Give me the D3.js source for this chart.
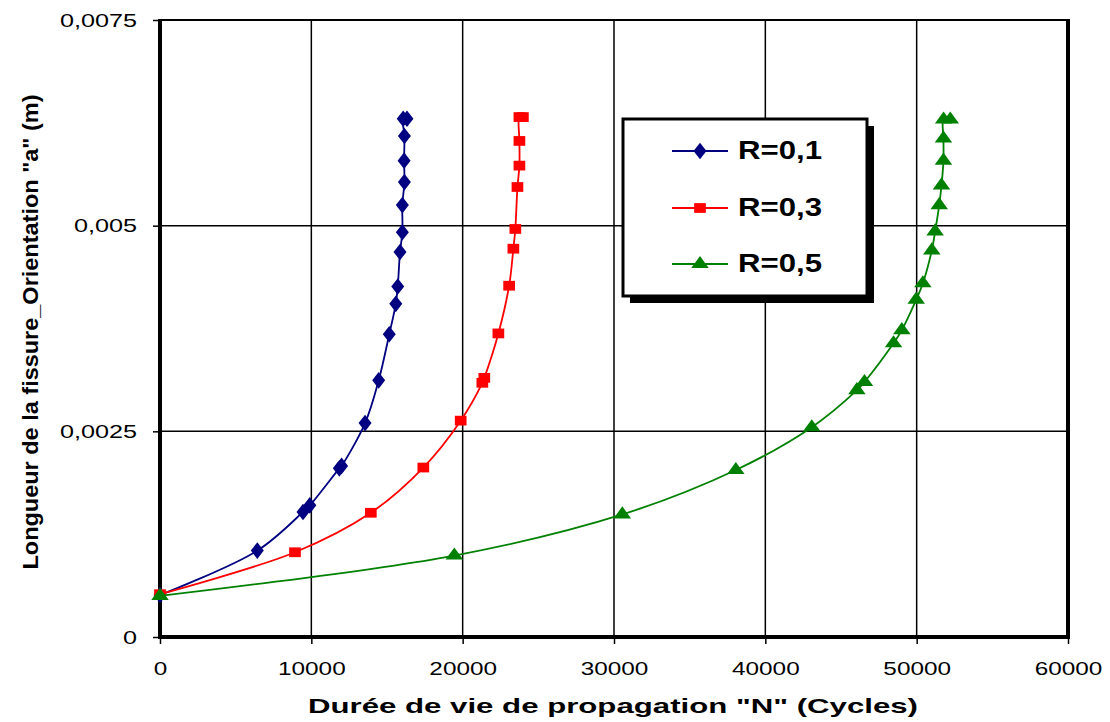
<!DOCTYPE html>
<html><head><meta charset="utf-8">
<script src="https://cdn.jsdelivr.net/npm/d3@7"></script>
<style>body{margin:0;background:#fff}svg{display:block}</style>
</head><body>
<svg id="c" width="1110" height="722"></svg>
<script>
// ---- data ----
const xTicks = [0, 10000, 20000, 30000, 40000, 50000, 60000];
const yTicks = [0, 0.0025, 0.005, 0.0075];
const yTickLabels = ["0", "0,0025", "0,005", "0,0075"];
const xTickLabels = ["0", "10000", "20000", "30000", "40000", "50000", "60000"];

const seriesNames = ["R=0,1", "R=0,3", "R=0,5"];

const r1N = [0, 6430, 9450, 9900, 11850, 12000, 13550, 14450, 15150, 15580, 15710, 15860, 16015, 16015, 16150, 16130, 16150, 16070, 16320];
const r1A = [0.00051, 0.00105, 0.00152, 0.00160, 0.00205, 0.00208, 0.00260, 0.00312, 0.00368, 0.00405, 0.00426, 0.00468, 0.00492, 0.00525, 0.00553, 0.00579, 0.00609, 0.00630, 0.00630];

const r3N = [0, 8920, 13930, 17400, 19870, 21300, 21430, 22360, 23070, 23350, 23480, 23620, 23750, 23750, 23750, 23980];
const r3A = [0.00052, 0.00103, 0.00151, 0.00206, 0.00263, 0.00309, 0.00315, 0.00369, 0.00427, 0.00472, 0.00496, 0.00547, 0.00573, 0.00603, 0.00632, 0.00632];

const r5N = [0, 19450, 30550, 38050, 43070, 46050, 46550, 48470, 49020, 49970, 50410, 51000, 51220, 51490, 51640, 51770, 51770, 51780, 52220];
const r5A = [0.00050, 0.00099, 0.00149, 0.00203, 0.00255, 0.00300, 0.00310, 0.00357, 0.00373, 0.00410, 0.00430, 0.00470, 0.00493, 0.00525, 0.00549, 0.00579, 0.00606, 0.00629, 0.00629];

const xTitle = 'Durée de vie de propagation "N" (Cycles)';
const yTitle = 'Longueur de la fissure_Orientation "a" (m)';

// ---- layout ----
const svg = d3.select("#c");
const L = 160, R = 1068, T = 20, B = 637;
const x = d3.scaleLinear().domain([0, 60000]).range([L, R]);
const y = d3.scaleLinear().domain([0, 0.0075]).range([B, T]);
const FONT = "Liberation Sans, Arial, sans-serif";

function stretch(sel, factor, target) {
  sel.each(function () {
    const w = this.getComputedTextLength();
    const t = target != null ? target : w * factor;
    this.setAttribute("textLength", t);
    this.setAttribute("lengthAdjust", "spacingAndGlyphs");
  });
}

// gridlines
svg.append("g").selectAll("line").data(xTicks.slice(1, -1)).join("line")
  .attr("x1", d => x(d)).attr("x2", d => x(d)).attr("y1", T).attr("y2", B)
  .attr("stroke", "#000").attr("stroke-width", 1.5);
svg.append("g").selectAll("line").data(yTicks.slice(1, -1)).join("line")
  .attr("x1", L).attr("x2", R).attr("y1", d => y(d)).attr("y2", d => y(d))
  .attr("stroke", "#000").attr("stroke-width", 1.5);

// frame
svg.append("line").attr("x1", L).attr("x2", R).attr("y1", T).attr("y2", T).attr("stroke", "#000").attr("stroke-width", 2);
svg.append("line").attr("x1", R).attr("x2", R).attr("y1", T - 1).attr("y2", B).attr("stroke", "#000").attr("stroke-width", 4);

// axes
const xAxis = d3.axisBottom(x).tickValues(xTicks).tickSize(7).tickFormat((d, i) => xTickLabels[i]);
const yAxis = d3.axisLeft(y).tickValues(yTicks).tickSize(7).tickFormat((d, i) => yTickLabels[i]);

const gx = svg.append("g").attr("transform", `translate(0,${B})`).call(xAxis);
gx.select(".domain").remove();
gx.selectAll(".tick line").attr("stroke", "#000").attr("stroke-width", 1.5);
gx.selectAll(".tick text").attr("font-family", FONT).attr("font-size", 19).attr("fill", "#000")
  .attr("y", 38).attr("dy", 0);
stretch(gx.selectAll(".tick text"), 1.28);

const gy = svg.append("g").attr("transform", `translate(${L},0)`).call(yAxis);
gy.select(".domain").remove();
gy.selectAll(".tick line").attr("stroke", "#000").attr("stroke-width", 1.5);
gy.selectAll(".tick text").attr("font-family", FONT).attr("font-size", 18).attr("fill", "#000")
  .attr("x", -23).attr("dy", "0.35em");
stretch(gy.selectAll(".tick text"), 1.4);

// thick axis lines
svg.append("line").attr("x1", L).attr("x2", L).attr("y1", T - 1).attr("y2", B + 2).attr("stroke", "#000").attr("stroke-width", 4);
svg.append("line").attr("x1", L - 2).attr("x2", R + 2).attr("y1", B).attr("y2", B).attr("stroke", "#000").attr("stroke-width", 4);

// series
const series = [
  { name: seriesNames[0], N: r1N, A: r1A, color: "#000080", sym: d3.symbolDiamond, sx: 1.35, sy: 1.0, size: 80 },
  { name: seriesNames[1], N: r3N, A: r3A, color: "#FF0000", sym: d3.symbolSquare, sx: 1.2, sy: 1.0, size: 95 },
  { name: seriesNames[2], N: r5N, A: r5A, color: "#008000", sym: d3.symbolTriangle, sx: 1.25, sy: 1.0, size: 85 }
];

const line = d3.line().x(d => x(d[0])).y(d => y(d[1])).curve(d3.curveCatmullRom.alpha(0.5));

series.forEach(s => {
  const pts = s.N.map((n, i) => [n, s.A[i]]);
  const g = svg.append("g");
  g.append("path").datum(pts).attr("d", line).attr("fill", "none")
    .attr("stroke", s.color).attr("stroke-width", 1.8);
  g.selectAll("path.m").data(pts).join("path").attr("class", "m")
    .attr("d", d3.symbol().type(s.sym).size(s.size))
    .attr("transform", d => `translate(${x(d[0])},${y(d[1])}) scale(${s.sx},${s.sy})`)
    .attr("fill", s.color);
});

// legend
const lg = svg.append("g");
const lx = 623, ly = 119, lw = 244, lh = 177;
lg.append("rect").attr("x", lx + 7).attr("y", ly + 7).attr("width", lw).attr("height", lh).attr("fill", "#000");
lg.append("rect").attr("x", lx).attr("y", ly).attr("width", lw).attr("height", lh)
  .attr("fill", "#fff").attr("stroke", "#000").attr("stroke-width", 3);
const rowsY = [151, 208, 264];
series.forEach((s, i) => {
  const yy = rowsY[i];
  lg.append("line").attr("x1", 672).attr("x2", 728).attr("y1", yy).attr("y2", yy)
    .attr("stroke", s.color).attr("stroke-width", 1.8);
  lg.append("path").attr("d", d3.symbol().type(s.sym).size(s.size)())
    .attr("transform", `translate(700,${yy}) scale(${s.sx},${s.sy})`).attr("fill", s.color);
  const t = lg.append("text").attr("x", 738).attr("y", yy + 8)
    .attr("font-family", FONT).attr("font-weight", "bold").attr("font-size", 26).attr("fill", "#000")
    .text(s.name);
  stretch(t, 1, 84);
});

// titles
const xt = svg.append("text").attr("x", 613).attr("y", 713).attr("text-anchor", "middle")
  .attr("font-family", FONT).attr("font-weight", "bold").attr("font-size", 21).attr("fill", "#000")
  .text(xTitle);
stretch(xt, 1, 610);

const yt = svg.append("text").attr("transform", "translate(38,332) rotate(-90)").attr("text-anchor", "middle")
  .attr("font-family", FONT).attr("font-weight", "bold").attr("font-size", 22).attr("fill", "#000")
  .text(yTitle);
stretch(yt, 1, 475);
</script>
</body></html>
